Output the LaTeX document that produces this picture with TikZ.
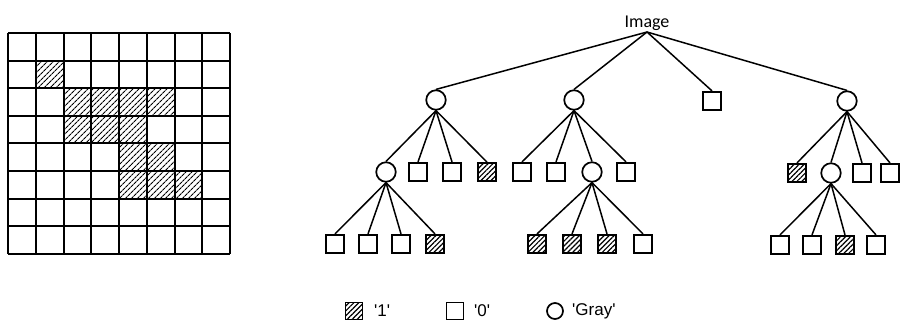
\documentclass[tikz,border=0pt]{standalone}
\usepackage{fontspec}
\setmainfont{Liberation Sans}
\newfontfamily\rootfont{Carlito}
\usetikzlibrary{patterns.meta}
\tikzset{
  sq/.style={draw, line width=1.7pt, minimum size=18.5pt, inner sep=0pt, fill=white},
  hsq/.style={sq, pattern={Lines[angle=45,distance=3.5pt,line width=1.2pt]}},
  gc/.style={draw, circle, line width=1.7pt, minimum size=19.5pt, inner sep=0pt, fill=white},
  edge/.style={line width=1.5pt},
  lg/.style={anchor=west, font=\fontsize{17}{17}\selectfont, inner sep=0pt},
}
\begin{document}
\begin{tikzpicture}[x=1pt,y=-1pt]
\useasboundingbox (0,0) rectangle (901,325);
% ---------- grid ----------
\def\gx{8}\def\gy{33}\def\cw{27.75}\def\ch{27.6}
\foreach \r/\c in {1/1, 2/2,2/3,2/4,2/5, 3/2,3/3,3/4, 4/4,4/5, 5/4,5/5,5/6}{
  \fill[pattern={Lines[angle=45,distance=4pt,line width=1.1pt]}]
    ({\gx+\c*\cw},{\gy+\r*\ch}) rectangle ({\gx+(\c+1)*\cw},{\gy+(\r+1)*\ch});
}
\foreach \i in {0,...,8}{
  \draw[line width=2pt] ({\gx+\i*\cw},\gy) -- ({\gx+\i*\cw},{\gy+8*\ch});
  \draw[line width=2pt] (\gx,{\gy+\i*\ch}) -- ({\gx+8*\cw},{\gy+\i*\ch});
}
% ---------- tree ----------
\node[font=\rootfont\fontsize{18}{18}\selectfont, anchor=south, inner sep=1.5pt] (root) at (647,32) {Image};
% level 1
\node[gc] (c1) at (436,100) {};
\node[gc] (c2) at (574,100) {};
\node[sq] (s3) at (712,101) {};
\node[gc] (c4) at (847,101) {};
% level 2
\node[gc]  (c11) at (386,172) {};
\node[sq]  (s12) at (418,172) {};
\node[sq]  (s13) at (452,172) {};
\node[hsq] (h14) at (487,172) {};
\node[sq]  (s21) at (522,172) {};
\node[sq]  (s22) at (556,172) {};
\node[gc]  (c23) at (592,172) {};
\node[sq]  (s24) at (626,172) {};
\node[hsq] (h41) at (797,173) {};
\node[gc]  (c42) at (831,173) {};
\node[sq]  (s43) at (862,173) {};
\node[sq]  (s44) at (890,173) {};
% level 3
\node[sq]  (a1) at (335,244) {};
\node[sq]  (a2) at (368,244) {};
\node[sq]  (a3) at (401,244) {};
\node[hsq] (a4) at (435,244) {};
\node[hsq] (b1) at (537,244) {};
\node[hsq] (b2) at (572,244) {};
\node[hsq] (b3) at (607,244) {};
\node[sq]  (b4) at (643,244) {};
\node[sq]  (d1) at (780,245) {};
\node[sq]  (d2) at (812,245) {};
\node[hsq] (d3) at (845,245) {};
\node[sq]  (d4) at (876,245) {};
% edges
\foreach \p/\k in {root/c1,root/c2,root/s3,root/c4,
                   c1/c11,c1/s12,c1/s13,c1/h14,
                   c2/s21,c2/s22,c2/c23,c2/s24,
                   c4/h41,c4/c42,c4/s43,c4/s44,
                   c11/a1,c11/a2,c11/a3,c11/a4,
                   c23/b1,c23/b2,c23/b3,c23/b4,
                   c42/d1,c42/d2,c42/d3,c42/d4}{
  \draw[edge] (\p.south) -- (\k.north);
}
% ---------- legend ----------
\node[hsq, minimum size=17pt] (l1) at (354,311) {};
\node[lg] (t1) at (374,311) {\textquotesingle1\textquotesingle};
\node[sq, minimum size=17pt] (l0) at (455,311) {};
\node[lg] (t0) at (474,311) {\textquotesingle0\textquotesingle};
\node[gc, minimum size=16pt] (lg) at (555,311) {};
\node[lg] (tg) at (572,311) {\textquotesingle Gray\textquotesingle};
\end{tikzpicture}
\end{document}
